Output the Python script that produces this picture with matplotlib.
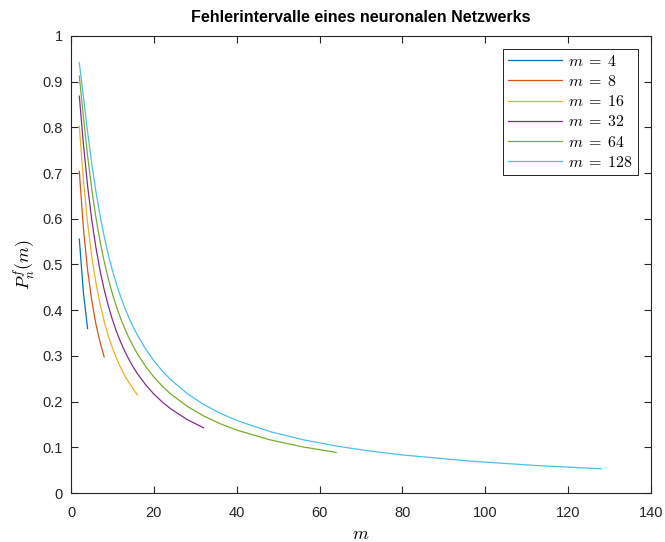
import matplotlib
matplotlib.use("Agg")
import matplotlib.pyplot as plt

# values: x positions and curve heights per m
n4 = [2, 3, 4]
p4 = [0.5556, 0.4375, 0.3600]

n8 = [2, 3, 4, 5, 6, 7, 8]
p8 = [0.7037, 0.5781, 0.4880, 0.4213, 0.3703, 0.3301, 0.2977]

n16 = [2, 3, 4, 5, 6, 7, 8, 9, 10, 11, 12, 13, 14, 15, 16]
p16 = [0.8025, 0.6836, 0.5904, 0.5177, 0.4602, 0.4138, 0.3757, 0.3439,
       0.3170, 0.2939, 0.2740, 0.2565, 0.2412, 0.2275, 0.2153]

n32 = [2, 3, 4, 5, 6, 7, 8, 9, 10, 11, 12, 13, 14, 15, 16,
       18, 20, 22, 24, 28, 32]
p32 = [0.8683, 0.7627, 0.6723, 0.5981, 0.5373, 0.4871, 0.4451, 0.4095,
       0.3791, 0.3528, 0.3298, 0.3096, 0.2918, 0.2758, 0.2615,
       0.2369, 0.2165, 0.1993, 0.1846, 0.1609, 0.1426]

n64 = [2, 3, 4, 5, 6, 7, 8, 9, 10, 11, 12, 13, 14, 15, 16,
       18, 20, 22, 24, 28, 32, 36, 40, 48, 56, 64]
p64 = [0.9122, 0.8220, 0.7379, 0.6651, 0.6034, 0.5512, 0.5067, 0.4686,
       0.4355, 0.4067, 0.3814, 0.3590, 0.3390, 0.3211, 0.3049,
       0.2770, 0.2538, 0.2341, 0.2172, 0.1899, 0.1686, 0.1516, 0.1377,
       0.1164, 0.1008, 0.0888]

n128 = [2, 3, 4, 5, 6, 7, 8, 9, 10, 11, 12, 13, 14, 15, 16,
        18, 20, 22, 24, 28, 32, 36, 40, 48, 56, 64, 72, 80, 96, 112, 128]
p128 = [0.9415, 0.8665, 0.7903, 0.7209, 0.6601, 0.6073, 0.5615, 0.5217,
        0.4868, 0.4561, 0.4290, 0.4047, 0.3830, 0.3635, 0.3458,
        0.3151, 0.2893, 0.2674, 0.2486, 0.2178, 0.1938, 0.1745, 0.1587,
        0.1344, 0.1165, 0.1028, 0.0920, 0.0833, 0.0700, 0.0603, 0.0530]

labels = [r'$m\;=\;4$', r'$m\;=\;8$', r'$m\;=\;16$', r'$m\;=\;32$',
          r'$m\;=\;64$', r'$m\;=\;128$']
colors = [(0, 0.447, 0.741), (0.85, 0.325, 0.098), (0.929, 0.694, 0.125),
          (0.494, 0.184, 0.556), (0.466, 0.674, 0.188), (0.301, 0.745, 0.933)]

plt.rcParams['font.family'] = ['Liberation Sans', 'DejaVu Sans']
plt.rcParams['mathtext.fontset'] = 'cm'

fig = plt.figure(figsize=(6.65, 5.42), dpi=100)
ax = fig.add_axes([0.1068, 0.0904, 0.8722, 0.8432])

series = [(n4, p4), (n8, p8), (n16, p16), (n32, p32), (n64, p64), (n128, p128)]
for (xs, ys), lab, col in zip(series, labels, colors):
  ax.plot(xs, ys, color=col, linewidth=0.9, label=lab)

ax.set_xlim(0, 140)
ax.set_ylim(0, 1)
ax.set_xticks(range(0, 141, 20))
ax.set_yticks([i / 10 for i in range(11)])
ax.set_yticklabels(['0', '0.1', '0.2', '0.3', '0.4', '0.5', '0.6', '0.7', '0.8', '0.9', '1'])

ax.tick_params(direction='in', top=True, right=True, length=5, width=0.8,
               colors=(0.15, 0.15, 0.15), labelsize=10.5, labelcolor=(0.15, 0.15, 0.15))
ax.tick_params(axis='x', pad=9)
ax.tick_params(axis='y', pad=6)
for s in ax.spines.values():
  s.set_color((0.15, 0.15, 0.15))
  s.set_linewidth(0.8)

ax.set_title('Fehlerintervalle eines neuronalen Netzwerks', fontsize=11.5,
             fontweight='bold', pad=10)
ax.set_xlabel(r'$m$', fontsize=13, labelpad=5)
ax.set_ylabel(r'$P_n^f(m)$', fontsize=13, labelpad=3)

leg = ax.legend(loc='upper right', fontsize=11.5, handlelength=3.4, fancybox=False,
                framealpha=1, edgecolor='black', borderpad=0.3, labelspacing=0.33,
                borderaxespad=0.8, handletextpad=0.4)
leg.get_frame().set_linewidth(0.6)

fig.savefig('out.png', dpi=100)
